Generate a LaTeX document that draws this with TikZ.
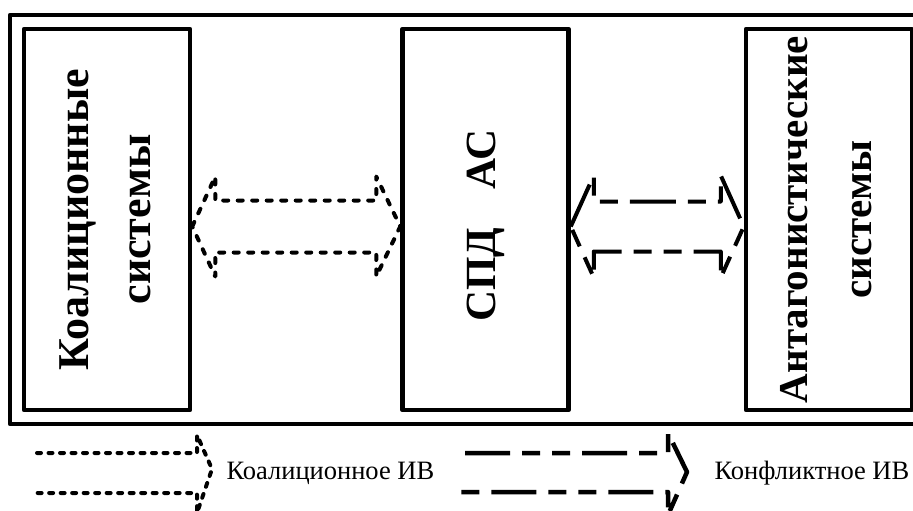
\documentclass[tikz,border=0pt]{standalone}
\usepackage{fontspec}
\setmainfont{Liberation Serif}
\usetikzlibrary{positioning, calc}

\begin{document}
\begin{tikzpicture}[x=1pt, y=-1pt, line join=round,
    sysbox/.style={draw, line width=4.5pt, minimum width=166pt, minimum height=381pt, inner sep=0pt},
    systext/.style={rotate=90, align=center, font=\fontsize{43}{64}\selectfont\bfseries},
    legtext/.style={anchor=base west, font=\fontsize{26.5}{32}\selectfont},
    coalline/.style={line width=4pt, line cap=round, dash pattern=on 5pt off 9.5pt},
    conflline/.style={line width=4pt, dash pattern=on 46pt off 12pt on 18pt off 12pt on 18pt off 12pt}]
\path[use as bounding box, clip] (0,0) rectangle (913,511);
\fill[white] (0,0) rectangle (913,511);

% outer frame
\draw[line width=4.5pt] (10,15) rectangle (935,424);

% systems
\node[sysbox] (kbox) at (107,219.5) {};
\node[sysbox, right=208pt of kbox] (spd) {};
\node[sysbox, right=173pt of spd] (abox) {};

\node[systext, font=\fontsize{44}{62}\selectfont\bfseries] (ktext) at ($(kbox.center)+(-2,0)$) {Коалиционные\\системы};
\node[systext] (stext) at ($(spd.center)+(0,6)$) {СПД\hspace{0.9em}АС};
\node[systext, font=\fontsize{41}{64}\selectfont\bfseries] (atext) at ($(abox.center)+(-3,0)$) {Антагонистические\\системы};

% interaction arrows
\coordinate (c1l) at ($(kbox.east)+(0,7)$);
\coordinate (c1r) at ($(spd.west)+(0,7)$);
\coordinate (c2l) at ($(spd.east)+(0,7)$);
\coordinate (c2r) at ($(abox.west)+(0,7)$);

\draw[coalline] (c1l) -- ++(23,-50) -- ++(0,24) -- ($(c1r)+(-24,-26)$) -- ++(0,-24) -- (c1r)
    -- ++(-24,50) -- ++(0,-24) -- ($(c1l)+(23,26)$) -- ++(0,24) -- cycle;
\draw[conflline] (c2l) -- ++(23,-51) -- ++(0,26) -- ($(c2r)+(-23,-25)$) -- ++(0,-26) -- (c2r)
    -- ++(-23,51) -- ++(0,-26) -- ($(c2l)+(23,25)$) -- ++(0,26) -- cycle;

% legend
\draw[coalline, line width=4pt, dash pattern=on 4pt off 7.5pt]
    (37,453) -- (197,453) -- (197,435) -- (212,469) -- (197,513) -- (197,493) -- (32,493);
\node[legtext] (lcoal) at (223,479) {Коалиционное ИВ};
\draw[conflline, line width=4.5pt, dash pattern=on 45pt off 12pt on 18pt off 12pt on 18pt off 12pt]
    (465,453) -- (668,453) -- (668,433) -- (687,472) -- (668,515) -- (668,492) -- (460,492);
\node[legtext] (lconfl) at (711,479) {Конфликтное ИВ};
\end{tikzpicture}
\end{document}
